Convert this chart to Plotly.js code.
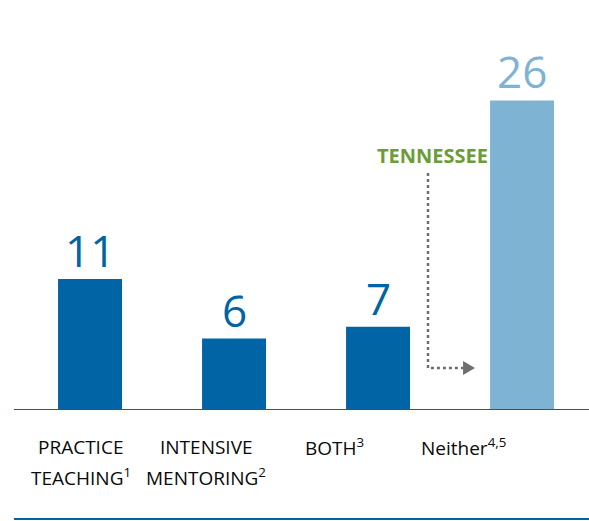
<!DOCTYPE html>
<html>
<head>
<meta charset="utf-8">
<script src="https://cdn.plot.ly/plotly-3.0.1.min.js"></script>
<style>html,body{margin:0;padding:0;background:#fff;}#chart{width:589px;height:521px;}</style>
</head>
<body>
<div id="chart"></div>
<script>
// ---- data ----
const categories = ['PRACTICE<br>TEACHING<sup>1</sup>', 'INTENSIVE<br>MENTORING<sup>2</sup>', 'BOTH<sup>3</sup>', 'Neither<sup>4,5</sup>'];
const values = [11, 6, 7, 26];
const highlightCategory = 'Neither<sup>4,5</sup>';
const calloutText = 'TENNESSEE';

// ---- styles ----
const DARK = '#0064A5';
const LIGHT = '#7FB3D4';
const GREEN = '#6A9D3A';
const GREY = '#6E6E6E';
const FONT = 'Open Sans, Noto Sans, sans-serif';

const xs = categories.map((c, i) => i);
const colors = categories.map(c => c === highlightCategory ? LIGHT : DARK);
const labelShift = [-0.063, -0.194, -0.30, -0.405]; // label centering offsets (layout)

const trace = {
  type: 'bar',
  x: xs,
  y: values,
  width: 0.444,
  marker: {color: colors, line: {width: 0}},
  hoverinfo: 'skip'
};

const annotations = [];
// value labels, drawn from the data
values.forEach((v, i) => {
  annotations.push({
    xref: 'x', yref: 'y', x: xs[i], y: v,
    text: String(v), showarrow: false,
    xanchor: 'center', yanchor: 'bottom', yshift: -3,
    font: {family: FONT, size: 44, color: colors[i]}
  });
});
categories.forEach((c, i) => {
  const lines = c.split('<br>');
  lines.forEach((ln, j) => {
    annotations.push({
      xref: 'x', yref: 'paper',
      x: i + labelShift[i], y: -0.097 - j * 0.079,
      text: ln, showarrow: false,
      xanchor: 'center', yanchor: 'middle',
      font: {family: FONT, size: 19, color: '#0a0a0a'}
    });
  });
});
annotations.push({
  xref: 'paper', yref: 'paper', x: 0.727, y: 0.667,
  text: '<b>' + calloutText + '</b>', showarrow: false,
  xanchor: 'center', yanchor: 'middle',
  font: {family: FONT, size: 20, color: GREEN}
});

const shapes = [
  {type: 'line', xref: 'paper', yref: 'y', x0: 0, x1: 1, y0: 0, y1: 0,
   line: {color: DARK, width: 2}},
  {type: 'line', xref: 'paper', yref: 'paper', x0: 0, x1: 1, y0: -0.286, y1: -0.286,
   line: {color: DARK, width: 2}},
  {type: 'path', xref: 'paper', yref: 'paper',
   path: 'M 0.72 0.622 L 0.72 0.110 L 0.781 0.110',
   line: {color: GREY, width: 2.5, dash: 'dot'}},
  {type: 'path', xref: 'paper', yref: 'paper',
   path: 'M 0.781 0.1286 L 0.8017 0.110 L 0.781 0.0919 Z',
   fillcolor: GREY, line: {color: GREY, width: 0}}
];

const layout = {
  width: 589, height: 521,
  margin: {l: 14, r: 0, t: 29, b: 111, pad: 0},
  paper_bgcolor: '#ffffff', plot_bgcolor: '#ffffff',
  showlegend: false,
  xaxis: {range: [-0.528, 3.465], showticklabels: false, showgrid: false, zeroline: false, showline: false, ticks: '', fixedrange: true},
  yaxis: {range: [0, 32], visible: false, showgrid: false, zeroline: false, fixedrange: true},
  annotations: annotations,
  shapes: shapes,
  font: {family: FONT}
};

Plotly.newPlot('chart', [trace], layout, {displayModeBar: false, staticPlot: true});
</script>
</body>
</html>
